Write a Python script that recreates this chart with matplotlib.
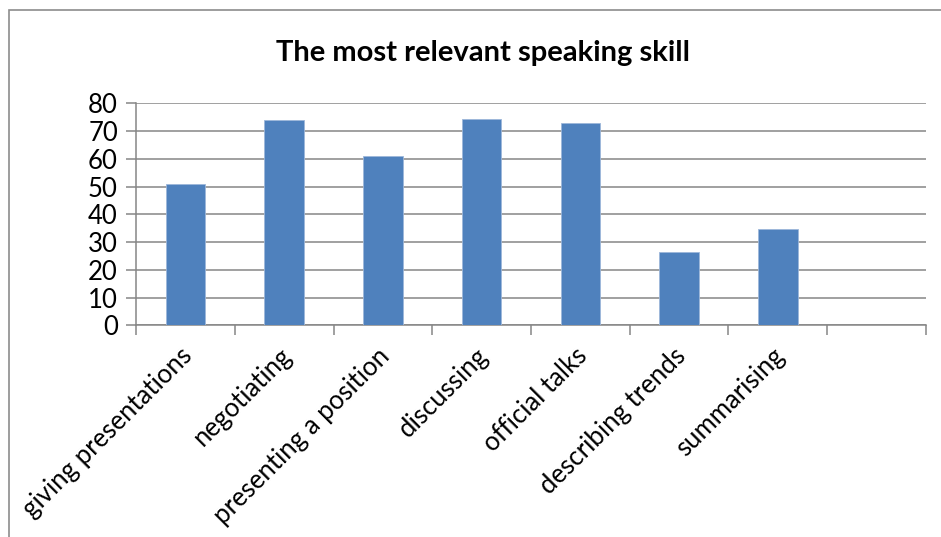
import matplotlib
matplotlib.use("Agg")
import matplotlib.pyplot as plt
import matplotlib.transforms as mtransforms
from matplotlib.patches import Rectangle

categories = ["giving presentations", "negotiating", "presenting a position",
              "discussing", "official talks", "describing trends", "summarising", ""]
values = [51, 74, 61, 74.3, 73, 26.3, 34.8, None]
yticks = [0, 10, 20, 30, 40, 50, 60, 70, 80]
title = "The most relevant speaking skill"

plt.rcParams['font.family'] = ['Lato', 'DejaVu Sans']

fig = plt.figure(figsize=(9.41, 5.37), dpi=100)
fig.patch.set_facecolor('white')
# outer chart frame
fig.patches.append(Rectangle((9/941, -0.05), 1.1, 1 - 10/537 + 0.05,
                             transform=fig.transFigure, fill=False,
                             edgecolor='#8c8c8c', linewidth=1.2))

ax = fig.add_axes([136/941, 1 - 325.3/537, 790/941, 222/537])
n = len(categories)
xs = list(range(n))
for i, v in enumerate(values):
    if v is not None:
        ax.bar(i, v, width=0.4, color='#4F81BD', edgecolor='#9DB7DA', linewidth=0.6, zorder=3)

ax.set_xlim(-0.5, n - 0.5)
ax.set_ylim(0, 80)
ax.set_yticks(yticks)
ax.set_yticklabels([str(t) for t in yticks], fontsize=18.5)
ax.yaxis.grid(True, color='#868686', linewidth=1.1, zorder=0)
ax.set_axisbelow(True)

ax.set_xticks(xs)
ax.set_xticklabels(categories, rotation=45, ha='right', rotation_mode='anchor', fontsize=18.5)
ax.tick_params(axis='x', length=0, pad=13)
offset = mtransforms.ScaledTranslation(-6/100, 0, fig.dpi_scale_trans)
for lbl in ax.get_xticklabels():
    lbl.set_transform(lbl.get_transform() + offset)
ax.set_xticks([i - 0.5 for i in range(n + 1)], minor=True)
ax.tick_params(axis='x', which='minor', length=7, color='#868686', width=1.1)
ax.tick_params(axis='y', length=7, color='#868686', width=1.1, pad=6)

for s in ['top', 'right']:
    ax.spines[s].set_visible(False)
for s in ['left', 'bottom']:
    ax.spines[s].set_color('#868686')
    ax.spines[s].set_linewidth(1.1)

fig.text(483/941, 1 - 53/537, title, ha='center', va='center', fontsize=21, fontweight='bold')

fig.savefig('out.png', dpi=100)
